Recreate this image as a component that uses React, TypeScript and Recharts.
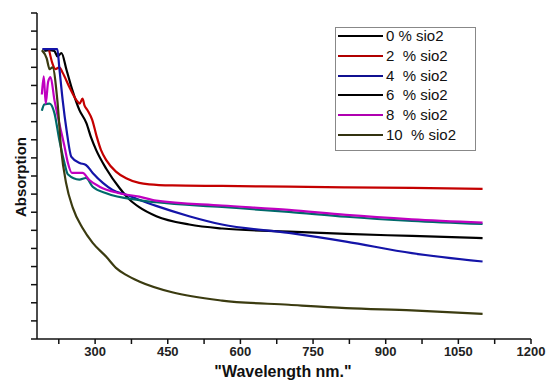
import { Line, LineChart, XAxis, YAxis } from "recharts";

// [wavelength nm, absorption]
const sio0: [number, number][] = [
  [195, 15.9], [205, 15.95], [216, 15.9], [222, 15.6], [230.5, 15.78], [241, 14.85],
  [253, 13.74], [267.6, 12.64], [282, 11.92], [292, 11.1], [302, 10.44],
  [323, 9.4], [350, 8.35], [371, 7.7], [391, 7.28], [426.4, 6.78], [494.4, 6.32],
  [562.5, 6.1], [700.6, 5.93], [818, 5.8], [954, 5.69], [1100, 5.57],
];
const sio2: [number, number][] = [
  [205, 15.95], [212, 15.2], [218, 14.9], [226, 15.0], [233, 14.7], [247, 13.9],
  [261, 13.2], [268, 13.0], [274, 13.28], [278, 12.9], [284, 12.64], [294, 12.1],
  [303, 11.2], [312, 10.44], [323, 9.88], [343, 9.24], [364, 8.88], [391, 8.62],
  [412, 8.54], [459, 8.48], [562, 8.45], [700, 8.41], [818, 8.37],
  [954, 8.34], [1100, 8.29],
];
const sio4: [number, number][] = [
  [191, 16.0], [222, 16.0], [226, 15.0], [233, 13.19], [241, 11.54], [251, 10.05],
  [268, 9.72], [281, 9.61], [295, 9.17], [316, 8.62], [336, 8.23], [364, 7.96],
  [426, 7.35], [494, 6.78], [562, 6.32], [700, 5.86], [818, 5.38], [954, 4.74],
  [1100, 4.28],
];
const sio6: [number, number][] = [
  [190, 12.6], [195, 12.95], [206, 13.0], [216, 12.47], [226, 11.0], [236, 9.8],
  [243.5, 9.1], [267.6, 8.8], [281, 8.89], [295, 8.41], [323, 8.05], [391, 7.67],
  [426, 7.55], [562, 7.29], [700, 7.02], [818, 6.75], [954, 6.52], [1100, 6.35],
];
const sio8: [number, number][] = [
  [190, 13.5], [194, 14.5], [198, 13.0], [203, 14.2], [208, 14.46], [216, 13.19],
  [226, 11.92], [237, 10.6], [244, 9.7], [252, 9.17], [274, 9.17], [288, 8.78],
  [309, 8.41], [350, 8.05], [391, 7.86], [426, 7.64], [562, 7.37], [700, 7.13],
  [818, 6.85], [954, 6.61], [1100, 6.43],
];
const sio10: [number, number][] = [
  [190, 15.95], [200, 15.5], [206, 14.9], [212, 15.0], [222, 13.19], [230, 10.44],
  [240, 8.62], [254, 7.24], [274, 6.13], [295, 5.31], [323, 4.54], [343, 3.93],
  [364, 3.54], [391, 3.18], [459, 2.58], [562, 2.12], [700, 1.89], [818, 1.71],
  [954, 1.58], [1100, 1.39],
];

const labels = ["0 % sio2", "2  % sio2", "4  % sio2", "6  % sio2", "8  % sio2", "10  % sio2"];
const xTicks = [225, 300, 375, 450, 525, 600, 675, 750, 825, 900, 975, 1050, 1125, 1200];
const yTicks = [0, 1, 2, 3, 4, 5, 6, 7, 8, 9, 10, 11, 12, 13, 14, 15, 16, 17, 18];

const series = [
  { data: sio0, color: "#000000", legend: "#000000" },
  { data: sio2, color: "#c40000", legend: "#b00000" },
  { data: sio4, color: "#1414a8", legend: "#101090" },
  { data: sio6, color: "#006a6a", legend: "#000000" },
  { data: sio8, color: "#c000c0", legend: "#b000b0" },
  { data: sio10, color: "#3b3b10", legend: "#333310" },
];

const font = "'Liberation Sans', Arial, sans-serif";

export default function App() {
  return (
    <div style={{ position: "absolute", left: 0, top: 0, width: 548, height: 381, background: "#fff", fontFamily: font }}>
      <LineChart width={548} height={381} margin={{ top: 13, right: 17, left: 7, bottom: 12 }}>
        <XAxis
          dataKey="x"
          type="number"
          domain={[180, 1200]}
          ticks={xTicks}
          allowDataOverflow
          tickFormatter={(v: number) => (v % 150 === 0 ? String(v) : "")}
          tick={{ fill: "#222", fontSize: 13, fontWeight: "bold", fontFamily: font }}
          tickSize={5}
          tickMargin={3}
          height={30}
          stroke="#111"
          strokeWidth={1.5}
        />
        <XAxis xAxisId="top" orientation="top" type="number" domain={[180, 1200]} tick={false} tickLine={false} height={0} stroke="#111" strokeWidth={1.5} />
        <YAxis
          type="number"
          domain={[0, 18]}
          ticks={yTicks}
          tickFormatter={() => ""}
          tickSize={6}
          width={30}
          stroke="#111"
          strokeWidth={1.5}
        />
        <YAxis yAxisId="right" orientation="right" domain={[0, 18]} tick={false} tickLine={false} width={0} stroke="#111" strokeWidth={1.5} />
        {series.map((s, i) => (
          <Line
            key={i}
            data={s.data.map(([x, y]) => ({ x, y }))}
            dataKey="y"
            type="monotone"
            stroke={s.color}
            strokeWidth={2.2}
            dot={false}
            isAnimationActive={false}
          />
        ))}
      </LineChart>
      <div
        style={{
          position: "absolute", left: 6, top: 177, transform: "translate(-50%, -50%) rotate(-90deg)",
          marginLeft: 14, fontSize: 15, fontWeight: "bold", color: "#111", whiteSpace: "nowrap",
        }}
      >
        Absorption
      </div>
      <div
        style={{
          position: "absolute", left: 283, top: 372, transform: "translate(-50%, -50%)",
          fontSize: 16, fontWeight: "bold", color: "#111", whiteSpace: "nowrap",
        }}
      >
        "Wavelength nm."
      </div>
      <div
        style={{
          position: "absolute", left: 335, top: 27, width: 141, height: 124,
          border: "1px solid #888", boxSizing: "border-box", background: "#fff",
        }}
      >
        {series.map((s, i) => (
          <div key={i} style={{ position: "absolute", left: 2, top: -2 + i * 19.8, height: 20, display: "flex", alignItems: "center" }}>
            <div style={{ width: 45, height: 2, background: s.legend }} />
            <span style={{ marginLeft: 3, fontSize: 15, color: "#111", whiteSpace: "pre", lineHeight: "20px" }}>{labels[i]}</span>
          </div>
        ))}
      </div>
    </div>
  );
}
